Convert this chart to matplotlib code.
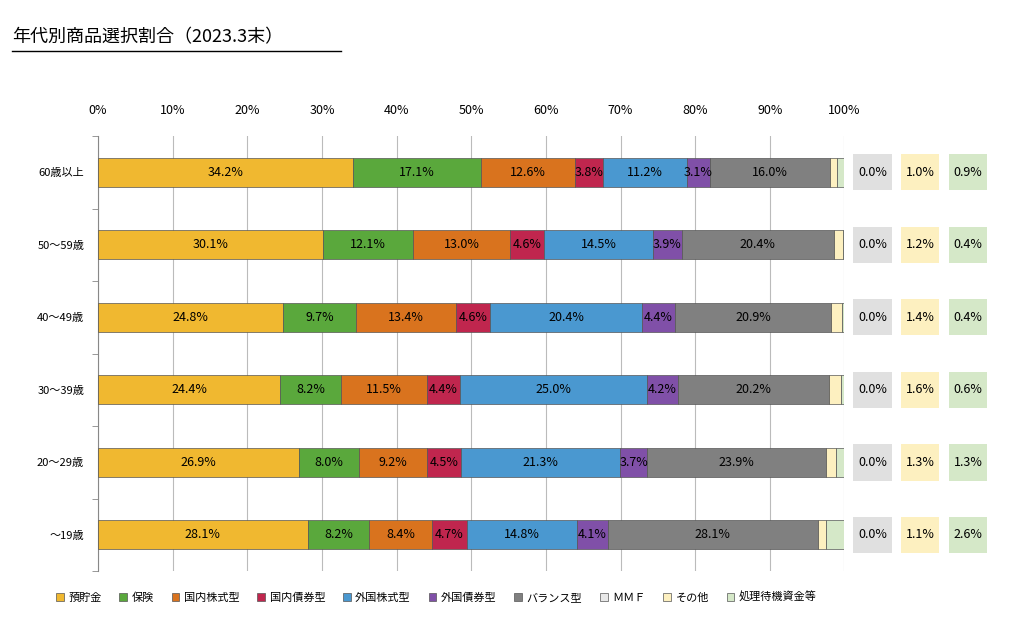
import matplotlib
matplotlib.use("Agg")
import matplotlib.pyplot as plt
from matplotlib.patches import Patch, Rectangle
import numpy as np

plt.rcParams["font.family"] = "Noto Sans CJK JP"

# 上から順
ages = ["60歳以上", "50～59歳", "40～49歳", "30～39歳", "20～29歳", "～19歳"]
series = ["預貯金", "保険", "国内株式型", "国内債券型", "外国株式型", "外国債券型",
          "バランス型", "ＭＭＦ", "その他", "処理待機資金等"]
yochokin = [34.2, 30.1, 24.8, 24.4, 26.9, 28.1]
hoken = [17.1, 12.1, 9.7, 8.2, 8.0, 8.2]
kokunai_kabu = [12.6, 13.0, 13.4, 11.5, 9.2, 8.4]
kokunai_sai = [3.8, 4.6, 4.6, 4.4, 4.5, 4.7]
gaikoku_kabu = [11.2, 14.5, 20.4, 25.0, 21.3, 14.8]
gaikoku_sai = [3.1, 3.9, 4.4, 4.2, 3.7, 4.1]
balance = [16.0, 20.4, 20.9, 20.2, 23.9, 28.1]
mmf = [0.0, 0.0, 0.0, 0.0, 0.0, 0.0]
sonota = [1.0, 1.2, 1.4, 1.6, 1.3, 1.1]
taiki = [0.9, 0.4, 0.4, 0.6, 1.3, 2.6]

values = [yochokin, hoken, kokunai_kabu, kokunai_sai, gaikoku_kabu, gaikoku_sai,
          balance, mmf, sonota, taiki]
colors = ["#f0b830", "#5aa83c", "#d9731e", "#c0264e", "#4a98d0", "#8050a8",
          "#808080", "#e8e8e8", "#fdf0c0", "#d5e8c8"]
box_colors = ["#e0e0e0", "#fdf0c0", "#d5e8c8"]

fig = plt.figure(figsize=(10.24, 6.27), dpi=100)
ax = fig.add_axes([0.0957, 0.089, 0.729, 0.694])

y = np.arange(len(ages))
left = np.zeros(len(ages))
for name, vals, c in zip(series, values, colors):
    vals = np.array(vals)
    ax.barh(y, vals, left=left, height=0.4, color=c, edgecolor="#555555",
            linewidth=0.5, zorder=3)
    if series.index(name) < 7:
        for yi, (l, v) in enumerate(zip(left, vals)):
            ax.text(l + v / 2, yi, f"{v:.1f}%", ha="center", va="center",
                    fontsize=9, zorder=4)
    left += vals

ax.set_xlim(0, 100)
ax.set_ylim(len(ages) - 0.5, -0.5)
ax.xaxis.tick_top()
ax.set_xticks(range(0, 101, 10))
ax.set_xticklabels([f"{t}%" for t in range(0, 101, 10)], fontsize=9)
ax.tick_params(axis="x", length=0, pad=14)
ax.set_yticks(y)
ax.set_yticklabels(ages, fontsize=8)
ax.tick_params(axis="y", length=0, pad=10)
ax.set_yticks(np.arange(-0.5, len(ages), 1), minor=True)
ax.tick_params(axis="y", which="minor", length=4, color="#888888")
ax.grid(axis="x", color="#bbbbbb", linewidth=0.8, zorder=0)
for s in ["top", "right", "bottom"]:
    ax.spines[s].set_visible(False)
ax.spines["left"].set_color("#888888")

# 右側の値ボックス
for yi in y:
    for k, (vals, bc) in enumerate(zip([mmf, sonota, taiki], box_colors)):
        x0 = 101.2 + k * 6.4
        ax.add_patch(Rectangle((x0, yi - 0.25), 5.1, 0.5, facecolor=bc,
                               edgecolor="none", clip_on=False))
        ax.text(x0 + 2.55, yi, f"{vals[yi]:.1f}%", ha="center", va="center",
                fontsize=9, clip_on=False)

fig.text(0.012, 0.94, "年代別商品選択割合（2023.3末）", fontsize=13, ha="left",
         va="center")
fig.add_artist(plt.Line2D([0.012, 0.333], [0.918, 0.918], color="black",
                          linewidth=1))

handles = [Patch(facecolor=c, edgecolor="#555555", linewidth=0.5) for c in colors]
fig.legend(handles, series, loc="center left", bbox_to_anchor=(0.045, 0.047),
           ncol=10, frameon=False, fontsize=8, handlelength=0.7,
           handleheight=0.7, columnspacing=1.6, handletextpad=0.4)

fig.savefig("out.png", dpi=100)
